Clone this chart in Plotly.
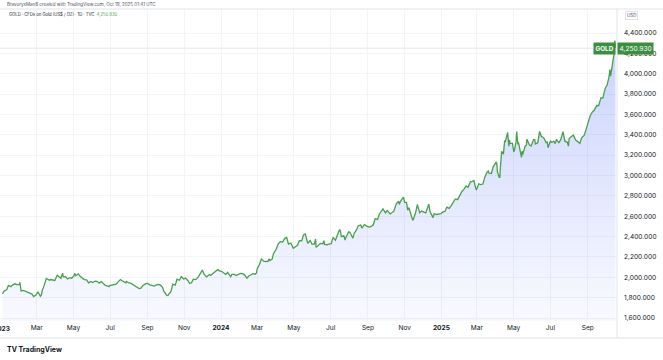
import plotly.graph_objects as go

dates_2023 = ["2023-01-03","2023-01-06","2023-01-10","2023-01-13","2023-01-17","2023-01-20","2023-01-24","2023-01-27","2023-01-31",
"2023-02-01","2023-02-02","2023-02-03","2023-02-07","2023-02-10","2023-02-14","2023-02-17","2023-02-21","2023-02-24","2023-02-28",
"2023-03-03","2023-03-07","2023-03-09","2023-03-10","2023-03-13","2023-03-17","2023-03-20","2023-03-22","2023-03-24","2023-03-28","2023-03-31",
"2023-04-04","2023-04-06","2023-04-10","2023-04-13","2023-04-14","2023-04-18","2023-04-21","2023-04-25","2023-04-28",
"2023-05-02","2023-05-03","2023-05-05","2023-05-09","2023-05-12","2023-05-16","2023-05-19","2023-05-23","2023-05-26","2023-05-30",
"2023-06-02","2023-06-06","2023-06-09","2023-06-13","2023-06-16","2023-06-20","2023-06-23","2023-06-27","2023-06-29","2023-06-30",
"2023-07-04","2023-07-07","2023-07-11","2023-07-14","2023-07-18","2023-07-20","2023-07-24","2023-07-27","2023-07-28",
"2023-08-01","2023-08-04","2023-08-08","2023-08-11","2023-08-15","2023-08-18","2023-08-21","2023-08-24","2023-08-29",
"2023-09-01","2023-09-05","2023-09-08","2023-09-12","2023-09-15","2023-09-19","2023-09-22","2023-09-26","2023-09-28",
"2023-10-03","2023-10-05","2023-10-06","2023-10-10","2023-10-13","2023-10-17","2023-10-20","2023-10-24","2023-10-27","2023-10-31",
"2023-11-03","2023-11-07","2023-11-10","2023-11-13","2023-11-16","2023-11-20","2023-11-24","2023-11-28",
"2023-12-01","2023-12-04","2023-12-08","2023-12-13","2023-12-15","2023-12-19","2023-12-22","2023-12-27","2023-12-29"]
prices_2023 = [1839,1865,1877,1920,1908,1926,1936,1928,1928,
1950,1912,1865,1872,1865,1854,1842,1835,1811,1827,
1856,1814,1831,1868,1913,1989,1978,1970,1978,1973,1969,
2020,2007,1990,2040,2004,2006,1983,1997,1990,
2016,2039,2016,2034,2010,1989,1978,1975,1946,1959,
1948,1963,1961,1943,1958,1936,1921,1914,1908,1919,
1926,1925,1932,1955,1978,1969,1955,1945,1959,
1944,1942,1925,1913,1902,1889,1894,1917,1937,
1940,1926,1919,1913,1924,1931,1925,1901,1864,
1822,1820,1833,1861,1933,1923,1981,1971,2006,1983,
1992,1969,1939,1946,1981,1977,2002,2041,
2072,2029,2004,2027,2019,2039,2053,2077,2063]

dates_2024 = ["2024-01-02","2024-01-05","2024-01-09","2024-01-12","2024-01-17","2024-01-19","2024-01-23","2024-01-26","2024-01-31",
"2024-02-02","2024-02-06","2024-02-09","2024-02-13","2024-02-16","2024-02-20","2024-02-23","2024-02-27","2024-02-29",
"2024-03-01","2024-03-05","2024-03-08","2024-03-12","2024-03-15","2024-03-19","2024-03-21","2024-03-22","2024-03-26","2024-03-28",
"2024-04-02","2024-04-05","2024-04-09","2024-04-12","2024-04-16","2024-04-19","2024-04-22","2024-04-26","2024-04-30",
"2024-05-03","2024-05-07","2024-05-10","2024-05-14","2024-05-17","2024-05-20","2024-05-22","2024-05-24","2024-05-28","2024-05-31",
"2024-06-04","2024-06-06","2024-06-07","2024-06-11","2024-06-14","2024-06-18","2024-06-20","2024-06-21","2024-06-25","2024-06-28",
"2024-07-02","2024-07-05","2024-07-09","2024-07-12","2024-07-16","2024-07-17","2024-07-19","2024-07-23","2024-07-25","2024-07-26","2024-07-31",
"2024-08-02","2024-08-05","2024-08-07","2024-08-09","2024-08-13","2024-08-16","2024-08-20","2024-08-22","2024-08-26","2024-08-30",
"2024-09-03","2024-09-06","2024-09-10","2024-09-13","2024-09-17","2024-09-20","2024-09-24","2024-09-26","2024-09-30",
"2024-10-03","2024-10-08","2024-10-10","2024-10-14","2024-10-18","2024-10-22","2024-10-23","2024-10-25","2024-10-30",
"2024-11-01","2024-11-04","2024-11-06","2024-11-08","2024-11-11","2024-11-14","2024-11-15","2024-11-19","2024-11-22","2024-11-26","2024-11-29",
"2024-12-03","2024-12-06","2024-12-11","2024-12-13","2024-12-18","2024-12-20","2024-12-24","2024-12-27","2024-12-31"]
prices_2024 = [2059,2045,2029,2049,2006,2029,2029,2018,2039,
2039,2035,2024,1992,2013,2025,2035,2030,2044,
2083,2128,2179,2158,2155,2157,2181,2165,2178,2230,
2280,2329,2352,2344,2383,2392,2327,2337,2286,
2301,2314,2360,2358,2415,2425,2379,2334,2361,2327,
2326,2376,2294,2316,2333,2329,2360,2322,2320,2326,
2330,2392,2364,2411,2469,2459,2400,2409,2365,2387,2447,
2443,2410,2383,2431,2465,2507,2513,2484,2518,2503,
2493,2497,2516,2577,2569,2622,2657,2672,2634,
2656,2622,2630,2649,2721,2748,2716,2747,2788,
2736,2736,2659,2685,2619,2565,2563,2631,2715,2633,2650,
2643,2633,2718,2648,2586,2623,2617,2621,2625]

dates_2025 = ["2025-01-03","2025-01-07","2025-01-10","2025-01-14","2025-01-17","2025-01-21","2025-01-24","2025-01-28","2025-01-31",
"2025-02-04","2025-02-07","2025-02-11","2025-02-14","2025-02-18","2025-02-20","2025-02-24","2025-02-27","2025-02-28",
"2025-03-04","2025-03-07","2025-03-11","2025-03-14","2025-03-18","2025-03-20","2025-03-21","2025-03-25","2025-03-28","2025-03-31",
"2025-04-02","2025-04-03","2025-04-04","2025-04-07","2025-04-08","2025-04-09","2025-04-10","2025-04-11","2025-04-14","2025-04-16","2025-04-17",
"2025-04-21","2025-04-22","2025-04-23","2025-04-24","2025-04-25","2025-04-29","2025-04-30",
"2025-05-01","2025-05-02","2025-05-05","2025-05-06","2025-05-08","2025-05-09","2025-05-12","2025-05-14","2025-05-15","2025-05-16",
"2025-05-20","2025-05-22","2025-05-23","2025-05-27","2025-05-30",
"2025-06-03","2025-06-05","2025-06-06","2025-06-10","2025-06-13","2025-06-16","2025-06-20","2025-06-24","2025-06-26","2025-06-27",
"2025-07-01","2025-07-03","2025-07-07","2025-07-09","2025-07-11","2025-07-15","2025-07-18","2025-07-22","2025-07-24","2025-07-25","2025-07-29","2025-07-31",
"2025-08-01","2025-08-05","2025-08-08","2025-08-12","2025-08-15","2025-08-19","2025-08-22","2025-08-26","2025-08-29",
"2025-09-02","2025-09-05","2025-09-09","2025-09-12","2025-09-16","2025-09-19","2025-09-23","2025-09-26","2025-09-30",
"2025-10-03","2025-10-06","2025-10-08","2025-10-09","2025-10-10","2025-10-13","2025-10-14","2025-10-15","2025-10-16","2025-10-17"]
prices_2025 = [2640,2648,2690,2677,2702,2745,2770,2763,2798,
2843,2861,2898,2882,2935,2939,2951,2876,2858,
2918,2910,2916,2984,3034,3043,3022,3020,3085,3124,
3134,3114,3037,2982,2982,3083,3175,3237,3210,3343,3327,
3424,3381,3288,3349,3319,3317,3289,
3238,3241,3334,3431,3306,3325,3234,3178,3240,3205,
3289,3296,3357,3301,3289,
3353,3353,3310,3322,3433,3385,3368,3323,3328,3273,
3338,3326,3336,3313,3355,3324,3350,3431,3368,3337,3326,3289,
3363,3381,3398,3348,3336,3316,3372,3393,3448,
3533,3587,3626,3643,3689,3685,3764,3760,3858,
3886,3960,4040,3976,4018,4110,4143,4209,4326,4250.93]

dates = dates_2023 + dates_2024 + dates_2025
prices = prices_2023 + prices_2024 + prices_2025
last_price = prices[-1]

x_tick_dates = ["2023-03-01","2023-05-01","2023-07-01","2023-09-01","2023-11-01",
                "2024-01-01","2024-03-01","2024-05-01","2024-07-01","2024-09-01","2024-11-01",
                "2025-01-01","2025-03-01","2025-05-01","2025-07-01","2025-09-01"]
x_tick_labels = ["Mar","May","Jul","Sep","Nov",
                 "<b>2024</b>","Mar","May","Jul","Sep","Nov",
                 "<b>2025</b>","Mar","May","Jul","Sep"]
first_year_date = "2023-01-01"
first_year_label = "<b>2023</b>"
y_ticks = [1600,1800,2000,2200,2400,2600,2800,3000,3200,3400,3600,3800,4000,4200,4400]

LINE = "#4a9f4e"
LABEL_GREEN = "#3e8e41"
FONT = "Inter, Roboto, sans-serif"
PH = 311  # plot height px
PW = 617  # plot width px

fig = go.Figure()
fig.add_trace(go.Scatter(
    x=dates, y=prices, mode="lines",
    line=dict(color=LINE, width=1.3),
    fill="tozeroy",
    fillgradient=dict(type="vertical", start=1580, stop=4400,
                      colorscale=[[0, "rgba(50,80,245,0.03)"], [1, "rgba(50,80,245,0.26)"]]),
    hoverinfo="skip", showlegend=False,
))

fig.update_layout(
    width=663, height=360,
    margin=dict(l=0, r=46, t=9, b=40, autoexpand=False),
    paper_bgcolor="white", plot_bgcolor="white",
    font=dict(family=FONT, color="#131722", size=7),
    hovermode=False,
    xaxis=dict(
        range=["2022-12-30", "2025-10-19 14:00"],
        tickvals=x_tick_dates, ticktext=x_tick_labels,
        showgrid=True, gridcolor="#f2f4f8", gridwidth=1,
        zeroline=False, showline=False, ticks="",
        tickfont=dict(size=6.6, color="#131722", family=FONT),
        ticklabelstandoff=2,
    ),
    yaxis=dict(
        side="right",
        range=[1580.4, 4635.8],
        tickvals=y_ticks, tickformat=",.3f",
        showgrid=True, gridcolor="#f2f4f8", gridwidth=1,
        zeroline=False, showline=False, ticks="",
        tickfont=dict(size=6.6, color="#131722", family=FONT),
        ticklabelstandoff=6,
    ),
)

# frame lines
fig.add_shape(type="line", xref="paper", yref="paper", x0=0, x1=663/PW, y0=1, y1=1,
              line=dict(color="#e0e3eb", width=1))
fig.add_shape(type="line", xref="paper", yref="paper", x0=1, x1=1, y0=-18/PH, y1=1,
              line=dict(color="#e0e3eb", width=1))
fig.add_shape(type="line", xref="paper", yref="paper", x0=0, x1=663/PW, y0=-18/PH, y1=-18/PH,
              line=dict(color="#e0e3eb", width=1))
fig.add_shape(type="line", xref="paper", yref="paper", x0=0, x1=1, y0=0, y1=0,
              line=dict(color="#f0f3fa", width=1))
# last price line
fig.add_shape(type="line", xref="paper", yref="y", x0=0, x1=1, y0=last_price, y1=last_price,
              line=dict(color="#e3e6ee", width=1))

# first (cut-off) year label
fig.add_annotation(xref="x", yref="paper", x=first_year_date, y=-9/PH, xanchor="center", yanchor="middle",
                   text=first_year_label, showarrow=False,
                   font=dict(size=6.6, color="#131722", family=FONT))

# header texts
fig.add_annotation(xref="paper", yref="paper", x=0.008, y=1 + 4.5/PH, xanchor="left", yanchor="middle",
                   text="BravoryxMan8 created with TradingView.com, Oct 19, 2025 01:41 UTC",
                   showarrow=False, font=dict(size=4.5, color="#50535e", family=FONT))
fig.add_annotation(xref="paper", yref="paper", x=0.011, y=1 - 5/PH, xanchor="left", yanchor="middle",
                   text="GOLD · CFDs on Gold (US$ / OZ) · 1D · TVC  <span style='color:#4a9f4e'>4,250.930</span>",
                   showarrow=False, font=dict(size=4.2, color="#131722", family=FONT))
fig.add_annotation(xref="paper", yref="paper", x=1 + 8/PW, y=1 - 6/PH, xanchor="left", yanchor="middle",
                   text="USD", showarrow=False, bordercolor="#e0e3eb", borderwidth=1, borderpad=1,
                   font=dict(size=4.5, color="#50535e", family=FONT))

# last price labels
fig.add_annotation(xref="paper", yref="y", x=1, y=last_price, xanchor="left", yanchor="middle",
                   text="4,250.930", showarrow=False, bgcolor=LABEL_GREEN, borderpad=1.5,
                   font=dict(size=6.6, color="white", family=FONT))
fig.add_annotation(xref="paper", yref="y", x=1 - 1/PW, y=last_price, xanchor="right", yanchor="middle",
                   text="<b>GOLD</b>", showarrow=False, bgcolor=LABEL_GREEN, borderpad=1.5,
                   font=dict(size=6.3, color="white", family=FONT))

# TradingView logo text
fig.add_annotation(xref="paper", yref="paper", x=0.008, y=-29/PH, xanchor="left", yanchor="middle",
                   text="<b>TV TradingView</b>", showarrow=False,
                   font=dict(size=7, color="#131722", family=FONT))

fig.write_html("out.html",
               config={"displayModeBar": False, "staticPlot": True},
               post_script="document.body.style.margin='0';document.body.style.overflow='hidden';")
